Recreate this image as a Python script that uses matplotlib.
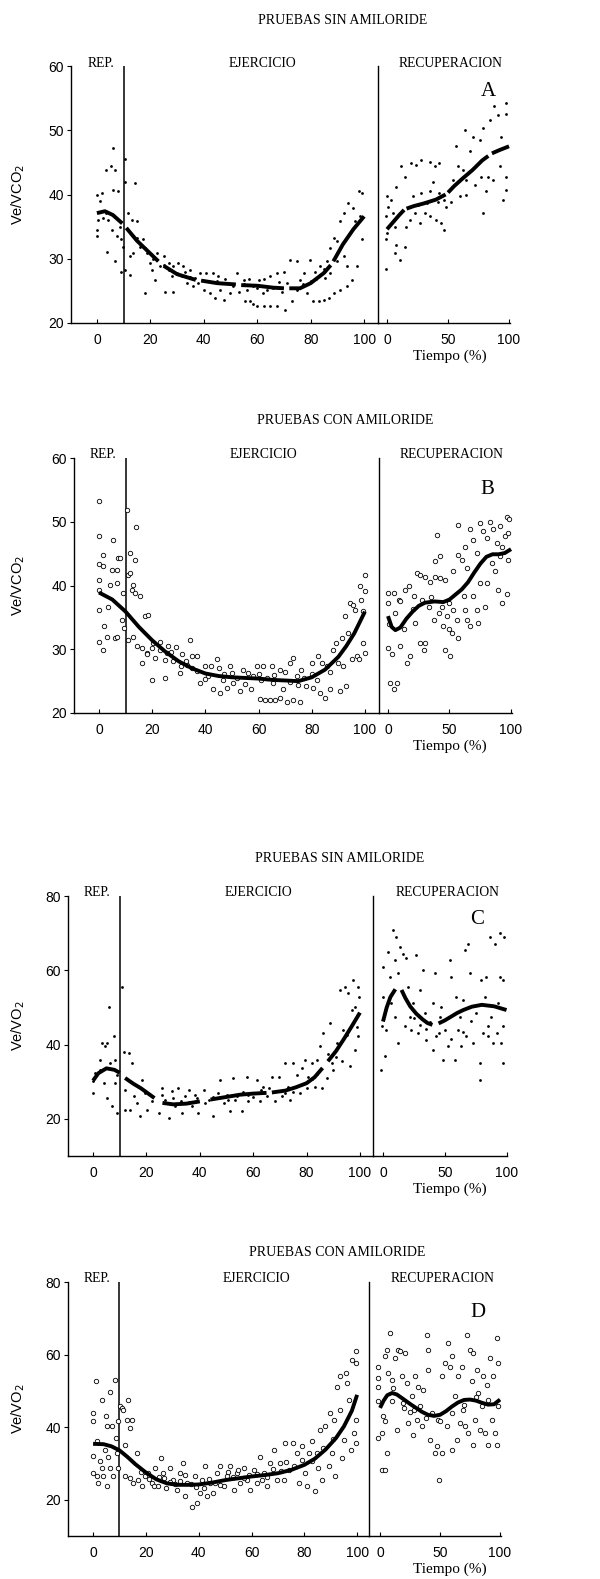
import numpy as np
import matplotlib
matplotlib.use('Agg')
from matplotlib import pyplot as plt
from matplotlib import transforms

W, H = 600, 1579

# ---- data (x = tiempo %, y = ratio) ----
# A: Ve/VCO2, pruebas sin amiloride
a_ex = [(0, 40), (0, 34.5), (0, 33.5), (0.5, 36), (1.8, 40.2), (1, 39), (3.4, 43.8), (5.1, 44.4),
        (6.1, 47.3), (6.8, 43.8), (3.6, 31.0), (6.9, 29.6), (6, 40.7), (8, 40.5), (3.4, 37.1),
        (2.4, 36.3), (4.2, 36), (5.5, 34.5), (7.4, 33.5), (8.6, 35), (9.2, 33), (9.2, 28),
        (10.5, 45.6), (10.5, 42), (14.2, 41.8), (11.7, 37.1), (13, 36), (15, 35.8), (9.9, 31.9),
        (12.4, 30.4), (13.6, 30.9), (12.4, 27.5), (10.5, 28.3), (16, 31.9), (17.4, 33), (18.6, 30.9),
        (18, 24.7), (20, 29.3), (20.5, 28.3), (21.8, 26.7), (22.4, 30.9), (25, 30.4), (23.6, 28.8),
        (25.5, 24.9), (28.4, 24.9), (26.8, 29.3), (28.6, 28.8), (30.5, 29.3), (28, 27.3), (30, 27.8),
        (31.8, 27.3), (32.4, 28.8), (35, 28.3), (36.8, 27), (38.6, 27.8), (33.6, 26.2), (36, 25.7),
        (39.9, 25.2), (41, 27.8), (43.6, 27.8), (45.5, 27.3), (42.4, 24.7), (44.3, 23.9), (47.4, 23.6),
        (46, 25.2), (49.9, 24.7), (51, 25.7), (52.4, 27.8), (54.9, 26.7), (55.5, 23.4), (57.4, 23.4),
        (58.6, 22.9), (56, 25.2), (58.6, 25.7), (60.5, 26.7), (59.9, 22.6), (62.4, 22.6), (64.9, 22.6),
        (67.4, 22.7), (70.5, 22.1), (62.4, 26.8), (64.9, 27.3), (67.4, 27.8), (69.9, 28), (63.6, 25.2),
        (66, 25.4), (69.4, 24.9), (72.4, 29.8), (74.9, 29.6), (73, 23.4), (76, 26.7), (77.4, 27.8),
        (78.6, 24.7), (79.9, 29.8), (81.8, 28), (81, 23.4), (83, 23.4), (84.9, 23.6), (86.7, 23.9),
        (83.6, 28.8), (85.5, 27), (87.4, 27.8), (87.4, 31.7), (88.6, 33.2), (89.9, 32.7), (88.6, 24.7),
        (91, 25.2), (93.6, 25.7), (95.5, 26.7), (91, 35.8), (92.4, 37.1), (94, 38.7), (96, 37.9),
        (93.6, 28.8), (97.4, 28.8), (98, 40.5), (99.3, 40.2), (99.3, 33), (98.6, 36.6), (96.6, 35.8),
        (89.9, 30.9), (92.4, 30.4), (45, 26.5), (50, 26.1), (55, 26), (60, 25.4), (65, 25.6),
        (35, 27.1), (25, 29.1), (18, 31.6), (75, 25.1), (80, 26.5), (85, 28.4), (90, 29.6),
        (27, 28.2), (33, 27.9), (38, 26.2), (48, 26.8), (53, 24.8), (57, 26.9), (62, 24.6),
        (68, 26.4), (71, 26.2), (77, 26), (82, 26.9), (86, 29.6), (15, 33.2), (21, 29.9)]
a_rec = [(-1, 28.4), (-0.5, 33), (0, 34), (-1, 36.6), (0, 39.7), (0.8, 38.1), (3.6, 39.2), (5, 37.1),
         (6.3, 35), (7.7, 32.2), (6.3, 30.9), (10.4, 29.8), (14.5, 31.9), (7.7, 41.2), (11.7, 44.4),
         (14.5, 42.8), (15.8, 35), (18.6, 36), (22.7, 37.1), (26.8, 35.5), (20, 44.9), (24, 44.6),
         (28, 45.4), (35, 45.1), (39, 44.4), (43, 44.9), (21.3, 39.7), (28, 40.2), (35, 40.5),
         (37.7, 42), (43, 40.2), (47, 39.2), (30.9, 37.1), (35, 36.6), (40.4, 36.1), (44.5, 35.5),
         (47, 34.5), (48.6, 38.1), (52.7, 38.9), (54, 42.3), (58, 44.4), (62.3, 43.8), (59.6, 39.7),
         (65, 40), (56.8, 47.5), (63.7, 50), (67.8, 46.7), (70.5, 49), (76, 48.5), (78.7, 50.3),
         (65, 42.3), (71.9, 41.5), (77.3, 42.8), (81.4, 40.5), (78.7, 37.1), (84, 51.6), (88, 53.7),
         (91, 52.4), (97.8, 54.2), (97.3, 52.6), (82.8, 42.8), (86.9, 42.3), (92.3, 44.4), (93.7, 49),
         (97.8, 40.7), (97.8, 42.8), (95, 39.2), (12, 37.5), (25, 38.3), (33, 38.6), (42, 38.9)]
a_fit_ex = [(0, 37.1), (3, 37.4), (6, 36.8), (9.5, 35.5), None, (11, 34.8), (15, 32.8), (20, 30.8),
            (23, 29.6), None, (25, 28.9), (30, 27.6), (37, 26.7), None, (39, 26.6), (45, 26.2),
            (52, 26), None, (54, 25.9), (60, 25.8), (66, 25.5), (70, 25.4), None, (72, 25.4),
            (76, 25.4), (80, 26.2), (85, 27.8), (87.5, 29), None, (88.5, 29.6), (92, 32.2),
            (96, 34.6), (100, 36.6)]
a_fit_rec = [(0, 34.6), (5, 35.7), (10, 36.8), (14, 37.6), None, (16, 37.8), (22, 38.2), (30, 38.6),
             (40, 39.2), (48, 40), None, (50, 40.3), (55, 41.3), (62, 42.5), (70, 43.8),
             (78, 45.3), (83, 46), None, (86, 46.4), (92, 46.9), (100, 47.5)]

# B: Ve/VCO2, pruebas con amiloride
b_ex = [(0, 53.3), (0, 47.7), (0, 43.3), (0, 40.9), (0, 39.3), (0, 36.2), (0, 31.2), (1.6, 44.8),
        (1.6, 43), (1.9, 33.6), (1.6, 29.9), (2.9, 32), (3.5, 36.7), (4.1, 40.1), (4.8, 42.5),
        (5.4, 47.2), (6, 31.8), (6.6, 40.4), (6.9, 42.5), (7.3, 44.3), (6.6, 32), (7.9, 44.3),
        (8.5, 34.6), (9.1, 38.8), (9.4, 33.3), (10.4, 51.9), (11, 41.7), (11.7, 45.1), (11.7, 42),
        (12.3, 39.3), (12.9, 40.1), (13.5, 38.8), (13.9, 49.1), (13.5, 44), (15.4, 38.3), (11, 31.5),
        (12.9, 32), (14.2, 30.5), (16, 27.8), (17.3, 35.2), (18.5, 35.4), (19.8, 25.2), (17.9, 29.4),
        (20.4, 31), (22.9, 29.9), (24.8, 25.5), (25.4, 29.4), (26.1, 30.5), (27.9, 28.1), (30.5, 26.3),
        (31.1, 29.2), (32.9, 28.1), (34.2, 31.5), (34.8, 27.1), (36.7, 28.9), (38, 24.7), (39.8, 27.3),
        (41.1, 25.8), (43, 23.7), (44.2, 28.4), (45.5, 23.1), (46.7, 25.2), (48, 23.9), (49.2, 27.3),
        (50.5, 24.7), (53, 23.4), (54.3, 26.8), (57, 23.7), (58, 25.8), (59.3, 27.3), (60.5, 22.2),
        (62.4, 22), (64.3, 22), (66.2, 22), (68, 22.4), (70.6, 21.8), (73, 22), (75.6, 21.8),
        (61.8, 27.3), (63, 25.5), (65.5, 24.7), (68, 26.8), (69.3, 23.7), (71.8, 27.8), (73, 28.6),
        (74.3, 25.8), (76, 26.8), (78, 24.2), (80, 27.8), (80.6, 23.9), (82.5, 28.9), (83, 23.1),
        (85, 22.4), (85.6, 27.3), (86.8, 23.7), (88, 29.9), (89.3, 31), (90.6, 23.4), (91.2, 31.8),
        (91.9, 27.3), (92.5, 35.2), (93.7, 32.5), (93, 24.2), (94.4, 37.3), (95.6, 37), (96.2, 36.2),
        (96.9, 28.9), (97.9, 28.4), (98.1, 39.9), (98.7, 37.8), (99.4, 31), (100, 41.7), (100, 39.1),
        (100, 29.4), (99.4, 36), (20, 30.2), (23, 31.2), (27, 29.5), (29, 30.4), (33, 27.6),
        (37, 26.6), (42, 27.4), (47, 26.1), (52, 25.5), (56, 26.3), (61, 25.2), (66, 25.9),
        (72, 24.9), (77, 25.5), (82, 25.1), (87, 26.4), (16, 30.2), (18, 29.2), (21, 28.7),
        (35, 29), (40, 25.3), (45, 27), (50, 26.3), (55, 24.6), (60, 26.1), (65, 27.4), (70, 26.4),
        (75, 24.4), (80, 26.1), (84, 27.9), (90, 27.9), (95, 28.4), (31, 27.3), (25, 28.3)]
b_rec = [(0, 38.8), (0, 37.3), (0.5, 33.9), (0, 30.2), (1.9, 24.7), (4.6, 23.7), (7.3, 24.7),
         (3.2, 29.2), (5.9, 35.7), (4.6, 38.8), (8.6, 37.8), (10, 30.5), (12.7, 33.1), (14, 39.3),
         (15.4, 27.8), (18.1, 28.9), (16.8, 39.9), (20.8, 38.3), (23.5, 42), (22.2, 34.1), (26.2, 31),
         (28.9, 29.9), (30.3, 31), (26.2, 41.7), (30.3, 41.4), (34.3, 40.6), (38.4, 41.4), (42.4, 41.1),
         (46.5, 40.9), (33, 36.7), (37.3, 34.6), (41.4, 35.7), (44, 36.7), (48.1, 35.2), (38.4, 43.8),
         (39.7, 48), (42.4, 44.6), (45.1, 33.6), (49.2, 33.1), (51.9, 32.5), (46.5, 29.9), (50.5, 28.9),
         (49.2, 37.3), (53.2, 36.2), (55.9, 34.6), (57.3, 31.8), (53.2, 42.2), (57.3, 44.8), (60, 44),
         (57.3, 49.5), (61.4, 38.3), (62.7, 36.2), (64.1, 34.6), (66.8, 33.6), (64.1, 42.7),
         (62.7, 46.1), (66.8, 48.8), (69.5, 47.2), (72.2, 45.1), (74.9, 49.8), (77.6, 48.5),
         (80.3, 47.5), (69.5, 38.3), (72.2, 36.2), (73.5, 34.1), (74.9, 40.4), (78.9, 36.7),
         (80.3, 40.4), (83, 49.9), (85.7, 48.8), (88.4, 46.7), (91.1, 49.3), (92.4, 46.1), (95.1, 47.7),
         (96.5, 50.8), (84.3, 43.5), (87, 42.2), (89.7, 39.3), (91.1, 44.6), (92.4, 37.3), (96.5, 38.6),
         (97.8, 44), (97.8, 48.2), (98.4, 50.5), (10, 37.5), (20, 36.3), (28, 37.8), (35, 38.2)]
b_fit_ex = [(0, 38.9), (5, 37.8), (10, 35.9), (15, 33.5), (20, 31.4), (25, 29.6), (30, 28.1),
            (35, 27), (40, 26.2), (45, 25.8), (50, 25.6), (55, 25.5), (60, 25.4), (65, 25.2),
            (70, 25.1), (75, 25.0), (80, 25.6), (85, 26.8), (90, 28.8), (93, 30.5), (96, 32.5),
            (100, 35.9)]
b_fit_rec = [(0, 35.2), (3, 33.5), (6, 33), (10, 33.4), (15, 34.8), (20, 35.9), (25, 36.8),
             (30, 37.3), (38, 37.5), (45, 37.4), (50, 37.8), (55, 38.6), (60, 39.4), (65, 40.5),
             (70, 42), (75, 43.4), (80, 44.5), (85, 44.9), (90, 44.9), (95, 45.1), (100, 45.7)]

# C: Ve/VO2, pruebas sin amiloride
c_ex = [(0, 30.1), (0, 27), (0.9, 32.3), (2.7, 33.2), (3.4, 40.4), (4.6, 39.5), (5.2, 40.4),
        (5.9, 50.2), (6.5, 35), (7.1, 23.4), (7.7, 42.2), (5.2, 25.6), (8.4, 35.9), (9, 31.9),
        (2.7, 35.9), (4, 29.6), (8.4, 29.6), (9, 21.6), (10.8, 55.6), (11.5, 38.1), (12.1, 27.9),
        (13.3, 37.7), (14.6, 35), (12.1, 22.5), (14, 22.5), (15.2, 26.1), (16.5, 24.3), (17.7, 20.7),
        (18.3, 30.5), (19.6, 27), (20.2, 22.5), (22.1, 24.7), (24.6, 21.6), (25.8, 28.3), (27.1, 25.2),
        (28.3, 20.2), (29.6, 27.4), (30.8, 23.4), (32, 28.3), (33.3, 21.6), (34.5, 26.1), (35.8, 27.9),
        (37, 23.4), (38.3, 26.5), (39.5, 21.6), (41.4, 27.9), (43.3, 25.2), (45.1, 20.7), (47, 27),
        (47.6, 30.5), (48.9, 24.3), (50.7, 25.2), (51.4, 22), (52.6, 31), (53.9, 26.1), (55.7, 22),
        (57.6, 31.4), (58.2, 24.7), (60.1, 27), (61.3, 30.5), (62.6, 24.7), (63.8, 28.7), (65.1, 26.1),
        (67, 31.4), (68.2, 24.7), (69.5, 31.4), (70.7, 26.1), (71.9, 35), (73.2, 28.7), (73.8, 25.2),
        (75.1, 35), (76.3, 31.9), (77.6, 27), (78.2, 33.7), (79.4, 35.9), (80.7, 31.4), (81.9, 35),
        (83.2, 28.7), (83.8, 35.9), (85, 39.5), (85.7, 28.3), (86.3, 43.1), (87.5, 31), (88.8, 45.7),
        (89.4, 35), (90, 33.2), (91.3, 40.4), (92.5, 54.7), (93.1, 35.5), (93.8, 44), (94.4, 55.6),
        (95.6, 53.8), (96.3, 34.1), (96.9, 49.3), (97.5, 57.4), (98.1, 38.6), (98.8, 44.8),
        (99.4, 55.6), (99.4, 42.2), (99.8, 52.9), (98.1, 50.2), (30, 25.5), (36, 24.6), (42, 24.3),
        (50, 26.4), (56, 27.3), (60, 25.8), (66, 28.3), (72, 27), (78, 29.1), (82, 30.6),
        (26, 26.3), (33, 24.9), (39, 25.6), (45, 25.9), (53, 25.2), (58, 26.3), (63, 27.8),
        (69, 27.6), (75, 27.3), (80, 28.4), (84, 32.2), (88, 37.4), (91, 36.6), (95, 42.6)]
c_rec = [(-1.4, 33.2), (-0.5, 44.9), (0, 52.9), (0, 60.9), (1.4, 49.3), (2.2, 44), (1.4, 36.8),
         (4.1, 65), (5.4, 58.3), (6.8, 51.1), (8.1, 70.8), (9.5, 62.7), (10.8, 69), (12.2, 59.2),
         (12.2, 40.4), (9.5, 47.5), (13.5, 66.3), (16.2, 64.5), (18.9, 63.2), (17.6, 44.9),
         (20.3, 55.6), (21.6, 47.5), (23, 44), (24.3, 51.1), (27, 64.1), (28.4, 43.1), (29.7, 54.7),
         (32.4, 60.1), (33.8, 48.4), (35.1, 41.3), (37.8, 46.2), (40.5, 51.1), (40.5, 38.6),
         (41.9, 59.2), (43.2, 42.2), (45.9, 47.5), (47.3, 50.2), (48.6, 35.9), (50, 44), (52.7, 39.5),
         (55.4, 58.3), (54.1, 62.7), (58.1, 35.9), (59.5, 52.9), (60.8, 44), (62.2, 47.5),
         (63.5, 39.5), (64.9, 52), (66.2, 65.4), (67.6, 42.2), (70.3, 59.2), (68.9, 67.2),
         (71.6, 46.4), (73, 40.4), (75.7, 48.4), (78.4, 35), (78.4, 30.5), (79.7, 57.4), (81.1, 43.1),
         (82.4, 52.9), (83.8, 58.3), (85.1, 42.2), (86.5, 69), (87.8, 47.5), (89.2, 40.4),
         (90.5, 67.2), (91.9, 43.1), (93.2, 51.1), (94.6, 58.3), (95.9, 40.4), (94.6, 70),
         (97.3, 57.4), (97.3, 35), (97.8, 69), (97.3, 44.9), (30, 45.3), (45, 43.2), (55, 41.6),
         (65, 43.5), (85, 45.1), (25, 47.2), (35, 44.1)]
c_fit_ex = [(0, 30.3), (2, 32.3), (5, 33.6), (8, 33.2), (10, 32.4), None, (12, 31), (15, 29.5),
            (18, 28.2), (23, 25.6), None, (26, 24.3), (30, 23.9), (35, 24.1), (40, 24.7), None,
            (44, 25.2), (50, 25.9), (55, 26.5), (60, 26.8), (65, 27), None, (67, 27.1), (72, 27.6),
            (76, 28.5), (80, 29.6), (83, 31.2), (86, 33.7), None, (88, 35.5), (91, 38.2),
            (94, 41.5), (97, 45), (100, 48.6)]
c_fit_rec = [(0, 46.2), (3, 50), (6, 52.8), (10, 54.9), None, (15, 54.7), (18, 52.6), (22, 50.3),
             (27, 48.3), (32, 46.8), (36, 45.8), (40, 45.3), None, (45, 45.7), (50, 46.5),
             (55, 47.5), (60, 48.5), (65, 49.3), (72, 50.2), (80, 50.7), (90, 50.3), (100, 49.3)]

# D: Ve/VO2, pruebas con amiloride
d_ex = [(0, 43.9), (0, 41.6), (0, 32.1), (0, 27.3), (1, 52.6), (1.3, 36.1), (1.3, 26.4), (1.9, 24.6),
        (2.5, 30.6), (3.2, 47.6), (3.2, 28.7), (3.8, 26.4), (4.4, 33.8), (4.8, 43), (5.1, 23.7),
        (5.3, 40.2), (5.7, 31.9), (6.3, 49.6), (6.3, 28.7), (7, 40.2), (7.6, 26.4), (8.2, 53.1),
        (8.6, 37), (8.9, 32.9), (9.5, 28.7), (9.5, 41.6), (10.1, 45.7), (10.8, 45.3), (11.4, 44.8),
        (12, 35.1), (12.7, 42), (13.3, 47.6), (13.9, 39.7), (14.6, 42), (12, 26.4), (13.9, 26),
        (15.2, 24.6), (16.5, 32.9), (17.1, 25.5), (18.4, 23.7), (19.6, 26.4), (20.9, 27.3),
        (22.2, 24.6), (23.4, 28.7), (24.7, 23.7), (25.9, 31.5), (26.6, 27.3), (27.8, 23.2),
        (29.1, 28.7), (30.4, 25.5), (31.6, 22.7), (32.9, 27.3), (34.2, 30.1), (34.8, 20.9),
        (35.4, 24.6), (37.3, 18.1), (38.6, 26.4), (39.2, 19), (40.5, 21.8), (41.1, 25.5), (42.4, 29.2),
        (43, 20.9), (44.3, 24.6), (45.6, 21.8), (46.8, 27.3), (48.1, 29.2), (49.4, 23.7), (50.6, 26.4),
        (51.9, 29.2), (53.2, 22.7), (54.4, 27.3), (55.7, 24.6), (57, 28.7), (58.2, 25.5), (59.5, 22.7),
        (60.8, 28.3), (62, 24.6), (63.3, 31.9), (64.6, 27.3), (65.8, 23.7), (67.1, 30.1), (68.4, 33.8),
        (69.6, 25.5), (70.9, 30.1), (72.2, 25.5), (72.8, 35.6), (74.1, 28.3), (75.9, 35.6),
        (77.2, 32.9), (77.9, 24.6), (79.1, 34.7), (80.4, 27.3), (81, 23.7), (81.6, 32.9), (82.9, 36.1),
        (84.2, 22.3), (84.8, 32.9), (86.1, 39.3), (86.7, 25.5), (88, 40.2), (89.2, 29.2), (89.9, 43.9),
        (90.5, 32.9), (91.1, 42), (91.8, 26.4), (92.4, 51.2), (93.7, 54), (93.7, 44.8), (94.3, 31.5),
        (94.9, 36.5), (95.6, 54.9), (96.2, 52.2), (96.8, 47.6), (97.5, 33.8), (98.1, 58.6),
        (98.7, 38.4), (99.4, 57.7), (99.7, 60.9), (99.4, 42), (99.4, 35.6), (21, 25.6), (25, 26.2),
        (29, 24.8), (33, 25.1), (37, 24.3), (44, 25.6), (48, 24.1), (53, 26.2), (57, 25.9),
        (62, 27.1), (66, 26.3), (71, 27.9), (76, 29.4), (83, 30.6), (87, 34.2), (91, 36.8),
        (18, 27.6), (23, 23.9), (27, 26), (31, 24.2), (35, 26.8), (39, 23.5), (42, 23.1),
        (46, 24.5), (51, 27.6), (55, 28.2), (59, 26.7), (64, 25.3), (68, 28.6), (73, 30.4),
        (79, 30.9), (85, 28.8)]
d_rec = [(-1.4, 56.7), (-1.4, 53.5), (-1.4, 51.2), (-1.4, 47.1), (-1.4, 37), (1.4, 28.3), (4.2, 28.3),
         (5.6, 32.9), (2.8, 43), (1.4, 38.4), (4.2, 41.6), (4.2, 59.5), (6.1, 61.3), (8.3, 65.9),
         (6.9, 54.9), (9.7, 53.1), (11.1, 50.8), (12.5, 59.1), (13.9, 39.3), (15.3, 61.3), (16.7, 60.9),
         (18.1, 54), (19.4, 46.6), (20.8, 60.4), (22.2, 52.2), (23.6, 41.1), (25, 44.3), (26.4, 48.5),
         (27.8, 37.9), (29.2, 54), (30.6, 42), (31.9, 51.2), (33.3, 45.7), (34.7, 40.2), (36.1, 50.3),
         (38.9, 65.5), (40.3, 61.3), (40.3, 55.8), (41.7, 36.5), (43.1, 43.9), (45.8, 32.9),
         (47.2, 34.7), (49.4, 25.5), (48.6, 42), (51.4, 54), (51.4, 32.9), (54.2, 57.7), (56.9, 63.2),
         (58.3, 56.7), (59.7, 59.5), (55.6, 40.2), (59.7, 33.8), (62.5, 48.5), (63.9, 36.5),
         (65.3, 54), (66.7, 41.1), (68.1, 56.7), (69.4, 44.8), (70.8, 40.2), (72.2, 65.5),
         (73.6, 38.4), (75, 61.3), (76.4, 52.6), (77.8, 35.1), (77.8, 60.4), (79.2, 42), (80.6, 55.8),
         (81.9, 49.4), (83.3, 39.3), (84.7, 45.7), (86.1, 54), (87.5, 38.4), (88.9, 51.7), (90.3, 35.1),
         (91.7, 59.1), (93.1, 42), (94.4, 54), (95.8, 38.4), (97.2, 64.5), (97.2, 35.1), (98.6, 45.7),
         (98.6, 57.7), (10, 47.2), (20, 45.2), (28, 44.6), (38, 42.6), (50, 41.8), (60, 43.9),
         (70, 46.1), (80, 48.3), (90, 47.4)]
d_fit_ex = [(0, 35.4), (4, 35.3), (7, 34.7), (10, 33.6), (13, 31.8), (16, 29.8), (20, 27.5),
            (24, 25.6), (28, 24.5), (32, 24.1), (36, 24.1), (40, 24.2), (45, 24.7), (50, 25.4),
            (55, 25.9), (60, 26.4), (65, 26.8), (70, 27.3), (75, 28.2), (80, 29.6), (84, 31.3),
            (88, 33.8), (92, 37), (95, 40.2), (98, 44.5), (100, 48.9)]
d_fit_rec = [(0, 45.3), (3, 47.3), (6, 48.8), (10, 49.4), (14, 49), (20, 47.6), (25, 46.4),
             (30, 45.3), (35, 44.2), (40, 43.4), (45, 43.1), (50, 43.4), (55, 44.4), (60, 45.7),
             (65, 46.8), (70, 47.5), (75, 47.6), (80, 47.3), (85, 46.7), (90, 46.2), (95, 46.3),
             (100, 47.6)]


def arr(points):
    return np.array([p if p is not None else (np.nan, np.nan) for p in points], dtype=float)


def px_box(x0, x1, y0, y1):
    return [x0 / W, 1 - y1 / H, (x1 - x0) / W, (y1 - y0) / H]


TICK_FONT = 'Liberation Sans'
SERIF = 'Liberation Serif'


def draw_panel(fig, geom, ylim, yticks, ylabel, title, title_pos, letter, letter_pos,
               ex, rec, fit_ex, fit_rec, open_marker):
    x0, xsep, x1, ytop, ybot, lx, rx = geom
    axl = fig.add_axes(px_box(x0, xsep, ytop, ybot))
    axr = fig.add_axes(px_box(xsep, x1, ytop, ybot))
    axl.set_xlim(*lx)
    axr.set_xlim(*rx)
    for ax in (axl, axr):
        ax.set_ylim(*ylim)
        ax.spines['top'].set_visible(False)
        ax.patch.set_alpha(0)
        for s in ax.spines.values():
            s.set_linewidth(1.0)
    axr.spines['left'].set_visible(False)
    axr.spines['right'].set_visible(False)
    axr.set_yticks([])

    axl.set_xticks([0, 20, 40, 60, 80, 100])
    axr.set_xticks([0, 50, 100])
    axl.set_yticks(yticks)
    for ax in (axl, axr):
        ax.tick_params(axis='x', direction='in', length=3, width=0.8, pad=7,
                       labelsize=10)
        for lab in ax.get_xticklabels():
            lab.set_fontfamily(TICK_FONT)
    axl.tick_params(axis='y', direction='out', length=3, width=0.8, pad=2, labelsize=10)
    for lab in axl.get_yticklabels():
        lab.set_fontfamily(TICK_FONT)

    axl.axvline(10, color='black', lw=1.1)

    ex, rec = arr(ex), arr(rec)
    if open_marker:
        kw = dict(marker='o', ls='none', ms=3.2, mfc='white', mec='black', mew=0.6)
    else:
        kw = dict(marker='o', ls='none', ms=2.0, mfc='black', mec='black', mew=0)
    axl.plot(ex[:, 0], ex[:, 1], clip_on=False, **kw)
    axr.plot(rec[:, 0], rec[:, 1], clip_on=False, **kw)

    fe, fr = arr(fit_ex), arr(fit_rec)
    axl.plot(fe[:, 0], fe[:, 1], color='black', lw=2.8, solid_capstyle='butt')
    axr.plot(fr[:, 0], fr[:, 1], color='black', lw=2.8, solid_capstyle='butt')

    top = ylim[1]
    up_l = transforms.offset_copy(axl.transData, fig=fig, y=3, units='dots')
    up_r = transforms.offset_copy(axr.transData, fig=fig, y=3, units='dots')
    axl.text(1.5, top, 'REP.', family=SERIF, fontsize=9.8, ha='center', va='center',
             transform=up_l)
    axl.text(62, top, 'EJERCICIO', family=SERIF, fontsize=9.8, ha='center', va='center',
             transform=up_l)
    axr.text(52, top, 'RECUPERACION', family=SERIF, fontsize=9.8, ha='center', va='center',
             transform=up_r)
    axr.text(letter_pos[0], letter_pos[1], letter, family=SERIF, fontsize=15,
             ha='center', va='center')

    fig.text(title_pos[0] / W, 1 - title_pos[1] / H, title, family=SERIF,
             fontsize=10, ha='center', va='center')
    fig.text(18 / W, 1 - (ytop + ybot) / 2 / H, ylabel, family=TICK_FONT, fontsize=10.5,
             rotation=90, ha='center', va='center')
    fig.text(450 / W, 1 - (ybot + 33) / H, 'Tiempo (%)', family=SERIF, fontsize=11,
             ha='center', va='center')


fig = plt.figure(figsize=(W / 100, H / 100), dpi=100)

draw_panel(fig, (71, 378, 510, 66, 323, (-9.7, 105.2), (-7.4, 100.8)), (20, 60),
           [20, 30, 40, 50, 60], 'Ve/VCO$_2$', 'PRUEBAS SIN AMILORIDE', (343, 20),
           'A', (83, 56.1), a_ex, a_rec, a_fit_ex, a_fit_rec, False)
draw_panel(fig, (74, 379, 512, 458, 713, (-9.4, 105.3), (-7.3, 100.8)), (20, 60),
           [20, 30, 40, 50, 60], 'Ve/VCO$_2$', 'PRUEBAS CON AMILORIDE', (345, 420),
           'B', (80.5, 55.1), b_ex, b_rec, b_fit_ex, b_fit_rec, True)
draw_panel(fig, (68, 373, 507, 896, 1156, (-9.4, 104.9), (-8.1, 100.4)), (10, 80),
           [20, 40, 60, 80], 'Ve/VO$_2$', 'PRUEBAS SIN AMILORIDE', (340, 858),
           'C', (75.8, 73.8), c_ex, c_rec, c_fit_ex, c_fit_rec, False)
draw_panel(fig, (68, 369, 501, 1282, 1536, (-9.5, 104.5), (-9.2, 100.8)), (10, 80),
           [20, 40, 60, 80], 'Ve/VO$_2$', 'PRUEBAS CON AMILORIDE', (337, 1253),
           'D', (81.7, 71.5), d_ex, d_rec, d_fit_ex, d_fit_rec, True)

fig.savefig('out.png', dpi=100)
